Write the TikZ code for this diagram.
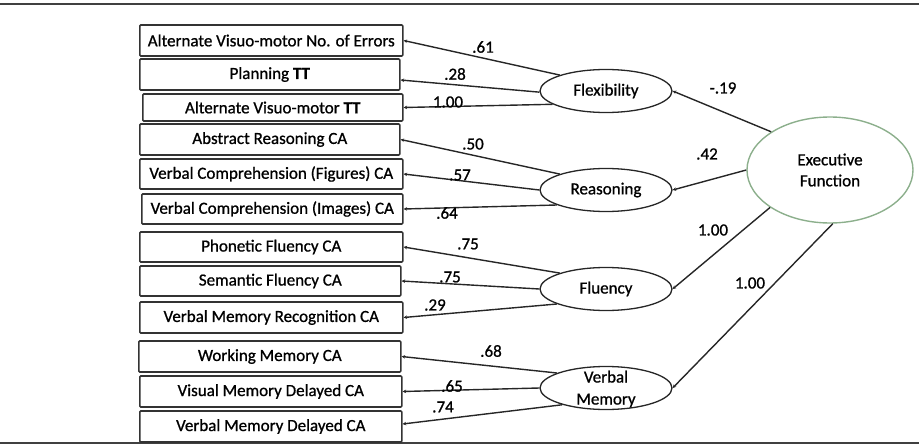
\documentclass[tikz,border=0pt]{standalone}
\usepackage{fontspec}
\setmainfont{Carlito}[FakeBold=0.9]
\usetikzlibrary{arrows.meta,shapes.geometric}
\begin{document}
\begin{tikzpicture}[x=1pt,y=-1pt,
  box/.style={draw=black!80, line width=1.6pt, rounded corners=1pt,
    minimum height=31pt, inner sep=0pt, anchor=west,
    font=\fontsize{17}{17}\selectfont},
  latent/.style={ellipse, draw=black!85, line width=1.3pt,
    minimum width=132pt, minimum height=43pt, inner sep=0pt,
    font=\fontsize{17}{19}\selectfont},
  load/.style={draw=black!85, line width=1.4pt,
    -{Stealth[length=3.5pt,width=3.5pt]}},
  coef/.style={font=\fontsize{17}{17}\selectfont, inner sep=0pt},
  rule/.style={draw=black!75, line width=1.6pt}]
\useasboundingbox (0,0) rectangle (919,444);

% frame rules
\draw[rule] (0,4) -- (919,4);
\draw[rule] (0,443) -- (919,443);

% observed indicators
\node[box, minimum width=263pt] (b1)  at (139,40.5)  {Alternate Visuo-motor No. of Errors};
\node[box, minimum width=260pt] (b2)  at (139,74.5)  {Planning \textbf{TT}};
\node[box, minimum width=260pt, minimum height=27pt] (b3) at (142,107.5) {Alternate Visuo-motor \textbf{TT}};
\node[box, minimum width=260pt] (b4)  at (139,139.5) {Abstract Reasoning CA};
\node[box, minimum width=263pt, minimum height=30pt] (b5)  at (139,174)   {Verbal Comprehension (Figures) CA};
\node[box, minimum width=261pt, minimum height=30pt] (b6)  at (141,209)   {Verbal Comprehension (Images) CA};
\node[box, minimum width=263pt, minimum height=30pt] (b7)  at (139,247)   {Phonetic Fluency CA};
\node[box, minimum width=261pt, minimum height=30pt] (b8)  at (139,281)   {Semantic Fluency CA};
\node[box, minimum width=263pt] (b9)  at (139,317.5) {Verbal Memory Recognition CA};
\node[box, minimum width=262pt] (b10) at (138,356.5) {Working Memory CA};
\node[box, minimum width=262pt] (b11) at (139,391.5) {Visual Memory Delayed CA};
\node[box, minimum width=262pt] (b12) at (139,426.5) {Verbal Memory Delayed CA};

% latent factors
\node[latent] (flex) at (606,91)  {Flexibility};
\node[latent] (reas) at (606,190) {Reasoning};
\node[latent] (flu)  at (606,289) {Fluency};
\node[latent] (vm)   at (606,388) {};
\node[font=\fontsize{17}{22}\selectfont, align=center, inner sep=0pt] (vmlabel) at (606,389) {Verbal\\Memory};
\node[ellipse, draw=green!30!black!45, line width=1.4pt, minimum width=166pt,
  minimum height=106pt, inner sep=0pt, align=center,
  font=\fontsize{17}{21}\selectfont] (ef) at (830,170) {Executive\\Function};

% loadings
\draw[load] (flex.161) -- (b1.east);
\draw[load] (flex.181) -- ([yshift=-5.5pt]b2.east);
\draw[load] (flex.194) -- (b3.east);
\draw[load] (reas.161) -- (b4.east);
\draw[load] (reas.180) -- (b5.east);
\draw[load] (reas.197) -- (b6.east);
\draw[load] (flu.161)  -- (b7.east);
\draw[load] (flu.180)  -- (b8.east);
\draw[load] (flu.197)  -- (b9.east);
\draw[load] (vm.163)   -- (b10.east);
\draw[load] (vm.180)   -- (b11.east);
\draw[load] (vm.201)   -- ([yshift=2.5pt]b12.east);

\draw[load] (ef.147) -- (flex.east);
\draw[load] (ef.180) -- (reas.east);
\draw[load] (ef.212) -- (flu.east);
\draw[load] (ef.273) -- (vm.east);

% coefficients
\node[coef] (c1)  at (483,47)  {.61};
\node[coef] (c2)  at (455,74)  {.28};
\node[coef] (c3)  at (448,102) {1.00};
\node[coef] (c4)  at (473,144) {.50};
\node[coef] (c5)  at (460,175) {.57};
\node[coef] (c6)  at (447,213) {.64};
\node[coef] (c7)  at (468,244) {.75};
\node[coef] (c8)  at (450,277) {.75};
\node[coef] (c9)  at (435,305) {.29};
\node[coef] (c10) at (491,351) {.68};
\node[coef] (c11) at (452,386) {.65};
\node[coef] (c12) at (443,407) {.74};
\node[coef] (c13) at (723,88)  {-.19};
\node[coef] (c14) at (707,154) {.42};
\node[coef] (c15) at (713,230) {1.00};
\node[coef] (c16) at (750,283) {1.00};
\end{tikzpicture}
\end{document}
